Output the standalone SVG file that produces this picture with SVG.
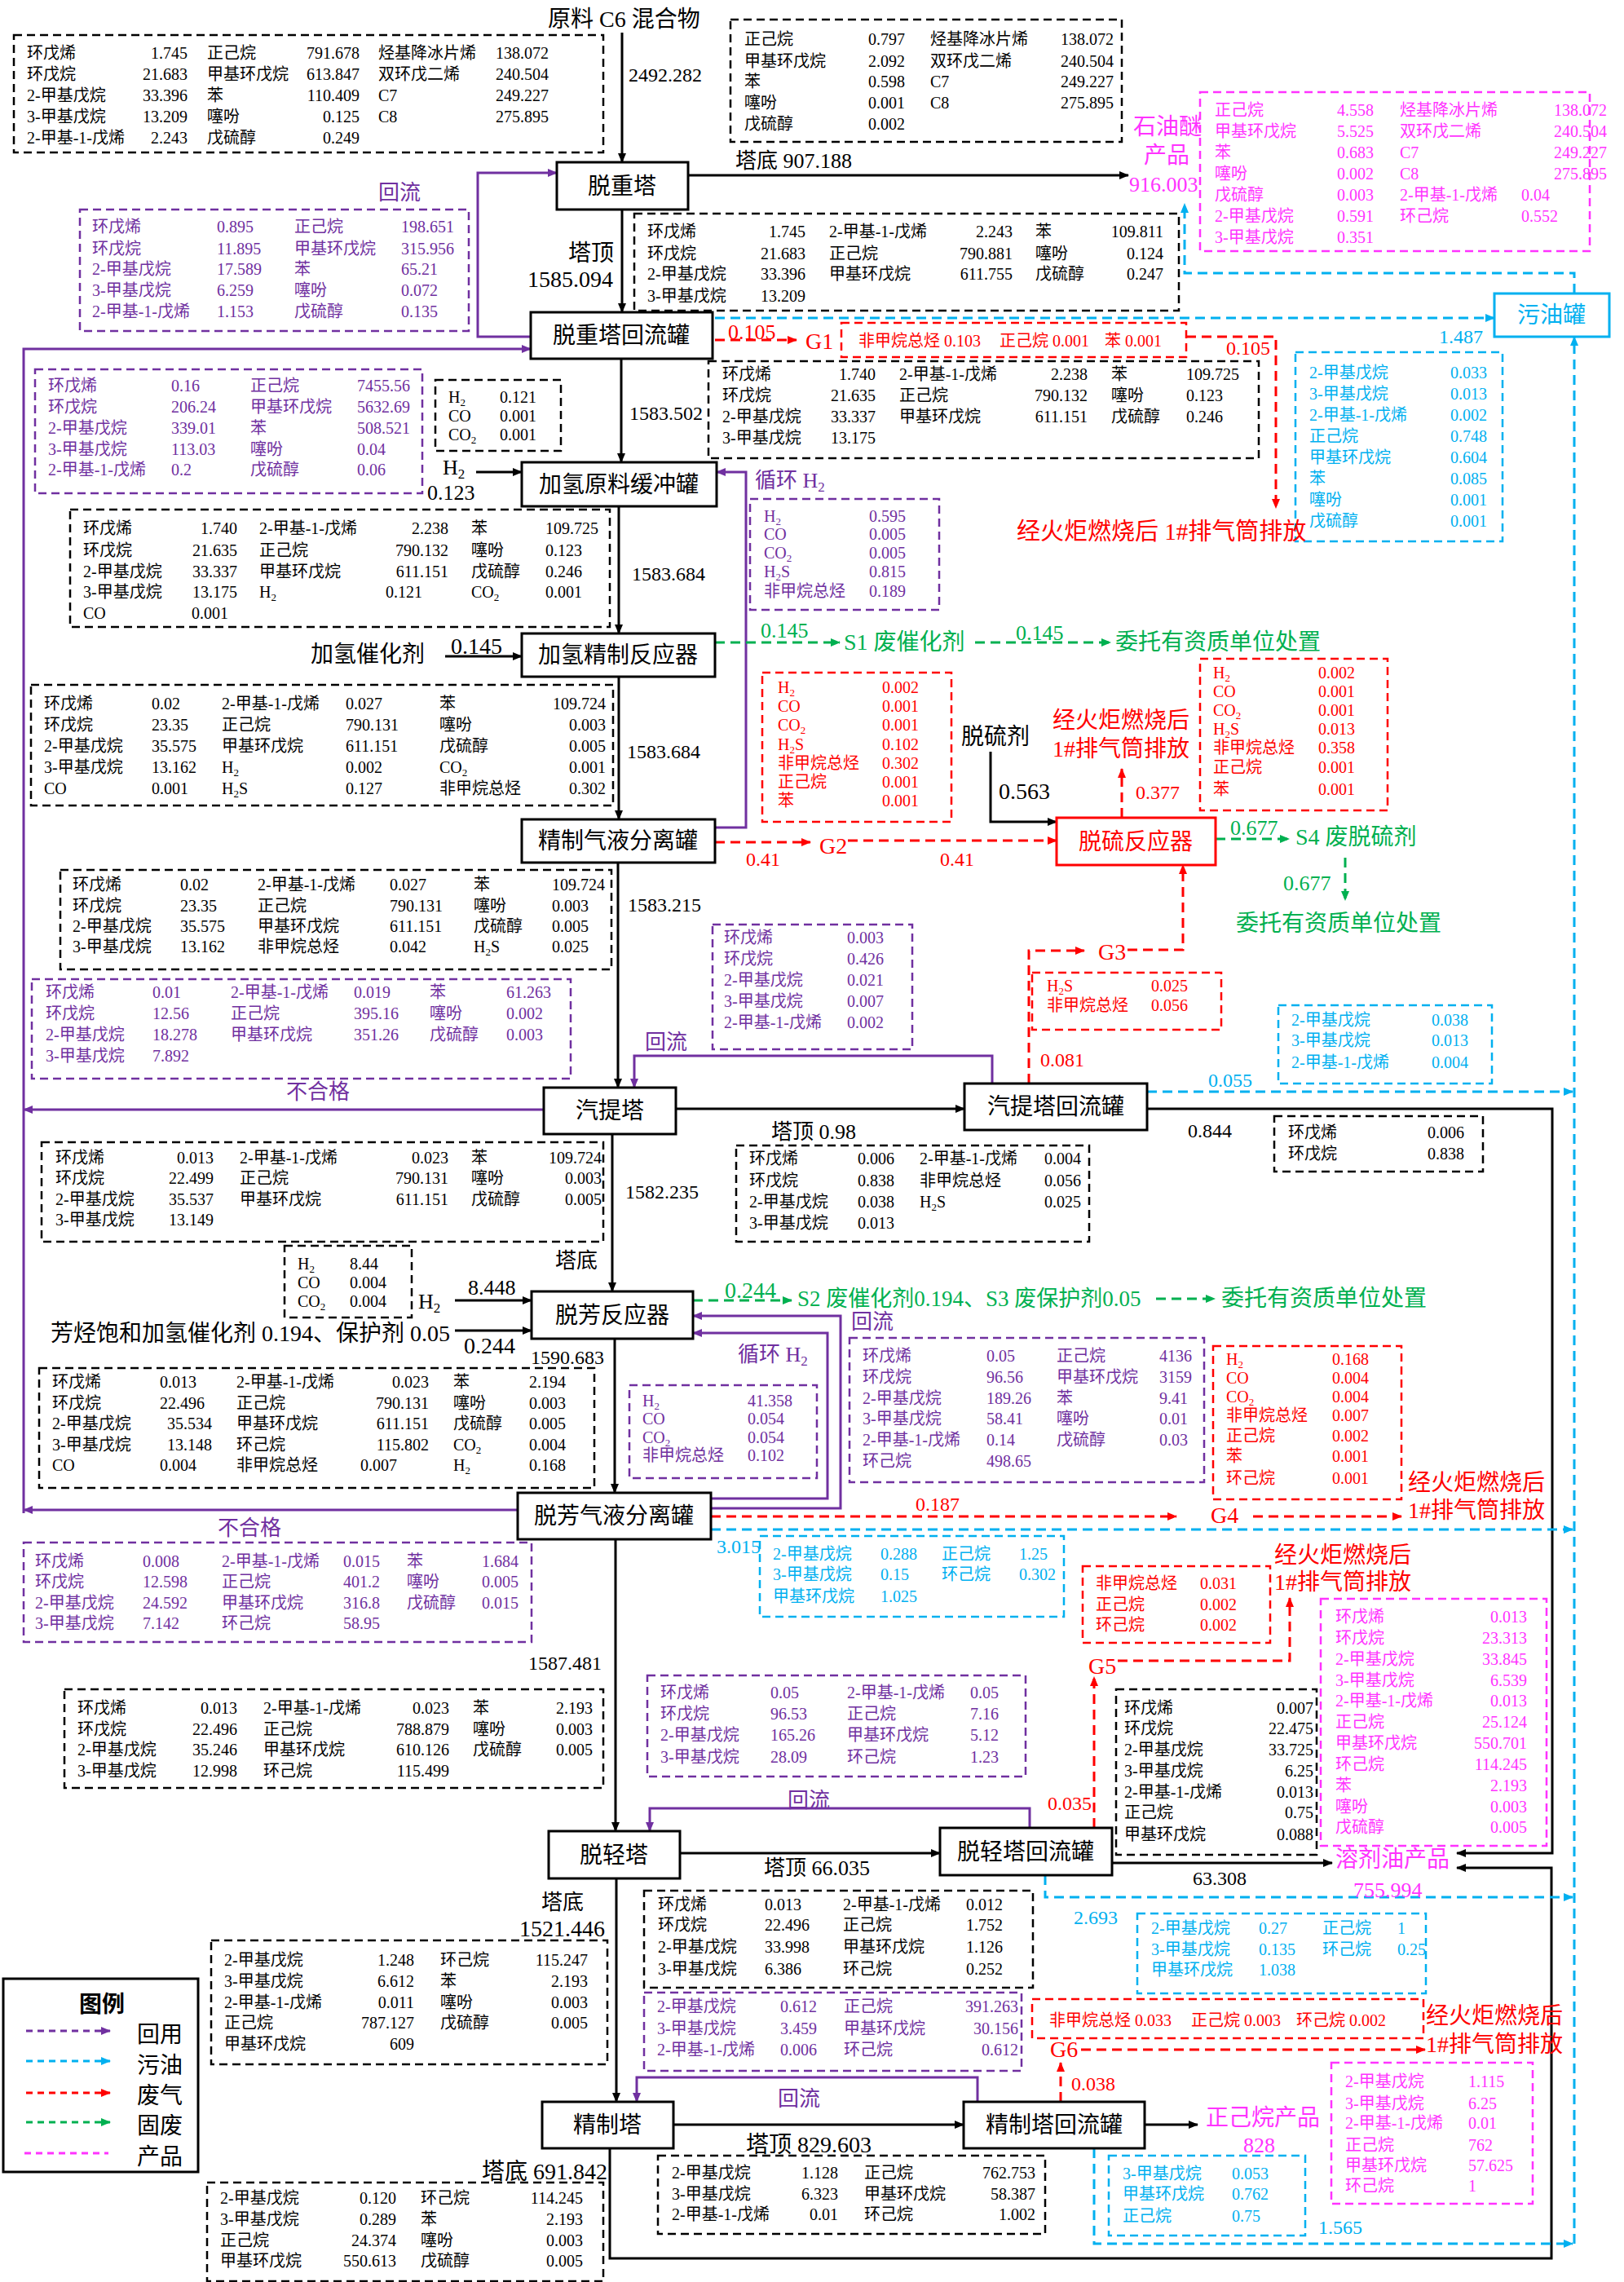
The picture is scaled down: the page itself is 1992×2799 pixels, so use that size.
<svg xmlns="http://www.w3.org/2000/svg" width="1992" height="2799" viewBox="0 0 1992 2799">
<style>
text{font-family:"Liberation Serif","Noto Sans CJK SC",serif;font-size:20px}
.L,#nodes text{font-size:28px}.M{font-size:24px}.K{font-size:26px}
.e{text-anchor:end}.c{text-anchor:middle}
.p{fill:#7030A0}.b{fill:#00B0F0}.r{fill:#FF0000}.g{fill:#00B050}.m{fill:#FF33FF}
.node{fill:#fff;stroke:#000;stroke-width:3}
.bx{fill:none;stroke-width:2.5;stroke-dasharray:10 6}
.bk{stroke:#000}.bp{stroke:#7030A0}.bb{stroke:#00B0F0}.br{stroke:#FF0000}.bm{stroke:#FF33FF}
.ln{fill:none;stroke:#000;stroke-width:3}
.lp{fill:none;stroke:#7030A0;stroke-width:3}
.lb{fill:none;stroke:#00B0F0;stroke-width:3;stroke-dasharray:12 7}
.lr{fill:none;stroke:#FF0000;stroke-width:3;stroke-dasharray:12 7}
.lg{fill:none;stroke:#00B050;stroke-width:3;stroke-dasharray:12 7}
.lm{fill:none;stroke:#FF33FF;stroke-width:3;stroke-dasharray:8 6}
.s{font-size:13px}
.S{font-size:17px}
</style>
<defs>
<marker id="ak" viewBox="0 0 12 10" refX="11" refY="5" markerWidth="12" markerHeight="10" markerUnits="userSpaceOnUse" orient="auto"><path d="M0,0L12,5L0,10z" fill="#000"/></marker>
<marker id="ap" viewBox="0 0 12 10" refX="11" refY="5" markerWidth="12" markerHeight="10" markerUnits="userSpaceOnUse" orient="auto"><path d="M0,0L12,5L0,10z" fill="#7030A0"/></marker>
<marker id="ab" viewBox="0 0 12 10" refX="11" refY="5" markerWidth="12" markerHeight="10" markerUnits="userSpaceOnUse" orient="auto"><path d="M0,0L12,5L0,10z" fill="#00B0F0"/></marker>
<marker id="ar" viewBox="0 0 12 10" refX="11" refY="5" markerWidth="12" markerHeight="10" markerUnits="userSpaceOnUse" orient="auto"><path d="M0,0L12,5L0,10z" fill="#FF0000"/></marker>
<marker id="ag" viewBox="0 0 12 10" refX="11" refY="5" markerWidth="12" markerHeight="10" markerUnits="userSpaceOnUse" orient="auto"><path d="M0,0L12,5L0,10z" fill="#00B050"/></marker>
</defs>
<rect width="1992" height="2799" fill="#fff"/>

<g id="tables">
<g id="tb-feed"><rect class="bx bk" x="17" y="43" width="723" height="144"/>
<text x="33" y="72">环戊烯</text><text class="e" x="230" y="72">1.745</text><text x="254" y="72">正己烷</text><text class="e" x="441" y="72">791.678</text><text x="464" y="72">烃基降冰片烯</text><text class="e" x="673" y="72">138.072</text>
<text x="33" y="98">环戊烷</text><text class="e" x="230" y="98">21.683</text><text x="254" y="98">甲基环戊烷</text><text class="e" x="441" y="98">613.847</text><text x="464" y="98">双环戊二烯</text><text class="e" x="673" y="98">240.504</text>
<text x="33" y="124">2-甲基戊烷</text><text class="e" x="230" y="124">33.396</text><text x="254" y="124">苯</text><text class="e" x="441" y="124">110.409</text><text x="464" y="124">C7</text><text class="e" x="673" y="124">249.227</text>
<text x="33" y="150">3-甲基戊烷</text><text class="e" x="230" y="150">13.209</text><text x="254" y="150">噻吩</text><text class="e" x="441" y="150">0.125</text><text x="464" y="150">C8</text><text class="e" x="673" y="150">275.895</text>
<text x="33" y="176">2-甲基-1-戊烯</text><text class="e" x="230" y="176">2.243</text><text x="254" y="176">戊硫醇</text><text class="e" x="441" y="176">0.249</text>
</g>
<g id="tb-bottom1"><rect class="bx bk" x="896" y="24" width="480" height="150"/>
<text x="913" y="55">正己烷</text><text class="e" x="1110" y="55">0.797</text><text x="1141" y="55">烃基降冰片烯</text><text class="e" x="1366" y="55">138.072</text>
<text x="913" y="82">甲基环戊烷</text><text class="e" x="1110" y="82">2.092</text><text x="1141" y="82">双环戊二烯</text><text class="e" x="1366" y="82">240.504</text>
<text x="913" y="107">苯</text><text class="e" x="1110" y="107">0.598</text><text x="1141" y="107">C7</text><text class="e" x="1366" y="107">249.227</text>
<text x="913" y="133">噻吩</text><text class="e" x="1110" y="133">0.001</text><text x="1141" y="133">C8</text><text class="e" x="1366" y="133">275.895</text>
<text x="913" y="159">戊硫醇</text><text class="e" x="1110" y="159">0.002</text>
</g>
<g id="tb-pe" class="m"><rect class="bx bm" x="1472" y="113" width="478" height="195"/>
<text x="1490" y="142">正己烷</text><text x="1640" y="142">4.558</text><text x="1717" y="142">烃基降冰片烯</text><text x="1906" y="142">138.072</text>
<text x="1490" y="168">甲基环戊烷</text><text x="1640" y="168">5.525</text><text x="1717" y="168">双环戊二烯</text><text x="1906" y="168">240.504</text>
<text x="1490" y="194">苯</text><text x="1640" y="194">0.683</text><text x="1717" y="194">C7</text><text x="1906" y="194">249.227</text>
<text x="1490" y="220">噻吩</text><text x="1640" y="220">0.002</text><text x="1717" y="220">C8</text><text x="1906" y="220">275.895</text>
<text x="1490" y="246">戊硫醇</text><text x="1640" y="246">0.003</text><text x="1717" y="246">2-甲基-1-戊烯</text><text x="1866" y="246">0.04</text>
<text x="1490" y="272">2-甲基戊烷</text><text x="1640" y="272">0.591</text><text x="1717" y="272">环己烷</text><text x="1866" y="272">0.552</text>
<text x="1490" y="298">3-甲基戊烷</text><text x="1640" y="298">0.351</text>
</g>
<g id="tb-reflux1" class="p"><rect class="bx bp" x="98" y="257" width="477" height="149"/>
<text x="113" y="285">环戊烯</text><text x="266" y="285">0.895</text><text x="361" y="285">正己烷</text><text x="492" y="285">198.651</text>
<text x="113" y="312">环戊烷</text><text x="266" y="312">11.895</text><text x="361" y="312">甲基环戊烷</text><text x="492" y="312">315.956</text>
<text x="113" y="337">2-甲基戊烷</text><text x="266" y="337">17.589</text><text x="361" y="337">苯</text><text x="492" y="337">65.21</text>
<text x="113" y="363">3-甲基戊烷</text><text x="266" y="363">6.259</text><text x="361" y="363">噻吩</text><text x="492" y="363">0.072</text>
<text x="113" y="389">2-甲基-1-戊烯</text><text x="266" y="389">1.153</text><text x="361" y="389">戊硫醇</text><text x="492" y="389">0.135</text>
</g>
<g id="tb-top1"><rect class="bx bk" x="778" y="262" width="668" height="119"/>
<text x="794" y="291">环戊烯</text><text class="e" x="988" y="291">1.745</text><text x="1017" y="291">2-甲基-1-戊烯</text><text class="e" x="1242" y="291">2.243</text><text x="1270" y="291">苯</text><text class="e" x="1427" y="291">109.811</text>
<text x="794" y="318">环戊烷</text><text class="e" x="988" y="318">21.683</text><text x="1017" y="318">正己烷</text><text class="e" x="1242" y="318">790.881</text><text x="1270" y="318">噻吩</text><text class="e" x="1427" y="318">0.124</text>
<text x="794" y="343">2-甲基戊烷</text><text class="e" x="988" y="343">33.396</text><text x="1017" y="343">甲基环戊烷</text><text class="e" x="1242" y="343">611.755</text><text x="1270" y="343">戊硫醇</text><text class="e" x="1427" y="343">0.247</text>
<text x="794" y="370">3-甲基戊烷</text><text class="e" x="988" y="370">13.209</text>
</g>
<g id="tb-g1" class="r"><rect class="bx br" x="1032" y="396" width="423" height="42"/>
<text x="1053" y="425">非甲烷总烃 0.103</text><text x="1226" y="425">正己烷 0.001</text><text x="1355" y="425">苯 0.001</text>
</g>
<g id="tb-oil1" class="b"><rect class="bx bb" x="1589" y="432" width="254" height="232"/>
<text x="1606" y="464">2-甲基戊烷</text><text x="1779" y="464">0.033</text>
<text x="1606" y="490">3-甲基戊烷</text><text x="1779" y="490">0.013</text>
<text x="1606" y="516">2-甲基-1-戊烯</text><text x="1779" y="516">0.002</text>
<text x="1606" y="542">正己烷</text><text x="1779" y="542">0.748</text>
<text x="1606" y="568">甲基环戊烷</text><text x="1779" y="568">0.604</text>
<text x="1606" y="594">苯</text><text x="1779" y="594">0.085</text>
<text x="1606" y="620">噻吩</text><text x="1779" y="620">0.001</text>
<text x="1606" y="646">戊硫醇</text><text x="1779" y="646">0.001</text>
</g>
<g id="tb-drum1"><rect class="bx bk" x="869" y="443" width="675" height="119"/>
<text x="886" y="466">环戊烯</text><text class="e" x="1074" y="466">1.740</text><text x="1103" y="466">2-甲基-1-戊烯</text><text class="e" x="1334" y="466">2.238</text><text x="1363" y="466">苯</text><text x="1455" y="466">109.725</text>
<text x="886" y="492">环戊烷</text><text class="e" x="1074" y="492">21.635</text><text x="1103" y="492">正己烷</text><text class="e" x="1334" y="492">790.132</text><text x="1363" y="492">噻吩</text><text x="1455" y="492">0.123</text>
<text x="886" y="518">2-甲基戊烷</text><text class="e" x="1074" y="518">33.337</text><text x="1103" y="518">甲基环戊烷</text><text class="e" x="1334" y="518">611.151</text><text x="1363" y="518">戊硫醇</text><text x="1455" y="518">0.246</text>
<text x="886" y="544">3-甲基戊烷</text><text class="e" x="1074" y="544">13.175</text>
</g>
<g id="tb-reflux2" class="p"><rect class="bx bp" x="43" y="453" width="475" height="152"/>
<text x="59" y="480">环戊烯</text><text x="210" y="480">0.16</text><text x="307" y="480">正己烷</text><text x="438" y="480">7455.56</text>
<text x="59" y="506">环戊烷</text><text x="210" y="506">206.24</text><text x="307" y="506">甲基环戊烷</text><text x="438" y="506">5632.69</text>
<text x="59" y="532">2-甲基戊烷</text><text x="210" y="532">339.01</text><text x="307" y="532">苯</text><text x="438" y="532">508.521</text>
<text x="59" y="558">3-甲基戊烷</text><text x="210" y="558">113.03</text><text x="307" y="558">噻吩</text><text x="438" y="558">0.04</text>
<text x="59" y="583">2-甲基-1-戊烯</text><text x="210" y="583">0.2</text><text x="307" y="583">戊硫醇</text><text x="438" y="583">0.06</text>
</g>
<g id="tb-h2a"><rect class="bx bk" x="534" y="466" width="154" height="87"/>
<text x="550" y="494">H<tspan class="s" dy="4">2</tspan></text><text x="613" y="494">0.121</text>
<text x="550" y="517">CO</text><text x="613" y="517">0.001</text>
<text x="550" y="540">CO<tspan class="s" dy="4">2</tspan></text><text x="613" y="540">0.001</text>
</g>
<g id="tb-rech2a" class="p"><rect class="bx bp" x="920" y="612" width="232" height="136"/>
<text x="937" y="640">H<tspan class="s" dy="4">2</tspan></text><text x="1066" y="640">0.595</text>
<text x="937" y="662">CO</text><text x="1066" y="662">0.005</text>
<text x="937" y="685">CO<tspan class="s" dy="4">2</tspan></text><text x="1066" y="685">0.005</text>
<text x="937" y="708">H<tspan class="s" dy="4">2</tspan><tspan dy="-4">S</tspan></text><text x="1066" y="708">0.815</text>
<text x="937" y="732">非甲烷总烃</text><text x="1066" y="732">0.189</text>
</g>
<g id="tb-drum2"><rect class="bx bk" x="86" y="625" width="662" height="144"/>
<text x="102" y="655">环戊烯</text><text class="e" x="291" y="655">1.740</text><text x="318" y="655">2-甲基-1-戊烯</text><text class="e" x="550" y="655">2.238</text><text x="578" y="655">苯</text><text x="669" y="655">109.725</text>
<text x="102" y="682">环戊烷</text><text class="e" x="291" y="682">21.635</text><text x="318" y="682">正己烷</text><text class="e" x="550" y="682">790.132</text><text x="578" y="682">噻吩</text><text x="669" y="682">0.123</text>
<text x="102" y="708">2-甲基戊烷</text><text class="e" x="291" y="708">33.337</text><text x="318" y="708">甲基环戊烷</text><text class="e" x="550" y="708">611.151</text><text x="578" y="708">戊硫醇</text><text x="669" y="708">0.246</text>
<text x="102" y="733">3-甲基戊烷</text><text class="e" x="291" y="733">13.175</text><text x="318" y="733">H<tspan class="s" dy="4">2</tspan></text><text class="e" x="518" y="733">0.121</text><text x="578" y="733">CO<tspan class="s" dy="4">2</tspan></text><text x="669" y="733">0.001</text>
<text x="102" y="759">CO</text><text class="e" x="280" y="759">0.001</text>
</g>
<g id="tb-hydro"><rect class="bx bk" x="38" y="840" width="714" height="148"/>
<text x="54" y="870">环戊烯</text><text x="186" y="870">0.02</text><text x="272" y="870">2-甲基-1-戊烯</text><text x="424" y="870">0.027</text><text x="539" y="870">苯</text><text class="e" x="743" y="870">109.724</text>
<text x="54" y="896">环戊烷</text><text x="186" y="896">23.35</text><text x="272" y="896">正己烷</text><text x="424" y="896">790.131</text><text x="539" y="896">噻吩</text><text class="e" x="743" y="896">0.003</text>
<text x="54" y="922">2-甲基戊烷</text><text x="186" y="922">35.575</text><text x="272" y="922">甲基环戊烷</text><text x="424" y="922">611.151</text><text x="539" y="922">戊硫醇</text><text class="e" x="743" y="922">0.005</text>
<text x="54" y="948">3-甲基戊烷</text><text x="186" y="948">13.162</text><text x="272" y="948">H<tspan class="s" dy="4">2</tspan></text><text x="424" y="948">0.002</text><text x="539" y="948">CO<tspan class="s" dy="4">2</tspan></text><text class="e" x="743" y="948">0.001</text>
<text x="54" y="974">CO</text><text x="186" y="974">0.001</text><text x="272" y="974">H<tspan class="s" dy="4">2</tspan><tspan dy="-4">S</tspan></text><text x="424" y="974">0.127</text><text x="539" y="974">非甲烷总烃</text><text class="e" x="743" y="974">0.302</text>
</g>
<g id="tb-g2" class="r"><rect class="bx br" x="935" y="825" width="232" height="183"/>
<text x="954" y="850">H<tspan class="s" dy="4">2</tspan></text><text x="1082" y="850">0.002</text>
<text x="954" y="873">CO</text><text x="1082" y="873">0.001</text>
<text x="954" y="896">CO<tspan class="s" dy="4">2</tspan></text><text x="1082" y="896">0.001</text>
<text x="954" y="920">H<tspan class="s" dy="4">2</tspan><tspan dy="-4">S</tspan></text><text x="1082" y="920">0.102</text>
<text x="954" y="943">非甲烷总烃</text><text x="1082" y="943">0.302</text>
<text x="954" y="966">正己烷</text><text x="1082" y="966">0.001</text>
<text x="954" y="989">苯</text><text x="1082" y="989">0.001</text>
</g>
<g id="tb-desulf" class="r"><rect class="bx br" x="1472" y="808" width="230" height="186"/>
<text x="1488" y="832">H<tspan class="s" dy="4">2</tspan></text><text x="1617" y="832">0.002</text>
<text x="1488" y="855">CO</text><text x="1617" y="855">0.001</text>
<text x="1488" y="878">CO<tspan class="s" dy="4">2</tspan></text><text x="1617" y="878">0.001</text>
<text x="1488" y="901">H<tspan class="s" dy="4">2</tspan><tspan dy="-4">S</tspan></text><text x="1617" y="901">0.013</text>
<text x="1488" y="924">非甲烷总烃</text><text x="1617" y="924">0.358</text>
<text x="1488" y="948">正己烷</text><text x="1617" y="948">0.001</text>
<text x="1488" y="975">苯</text><text x="1617" y="975">0.001</text>
</g>
<g id="tb-sep1"><rect class="bx bk" x="74" y="1067" width="676" height="122"/>
<text x="89" y="1092">环戊烯</text><text x="221" y="1092">0.02</text><text x="316" y="1092">2-甲基-1-戊烯</text><text x="478" y="1092">0.027</text><text x="581" y="1092">苯</text><text x="677" y="1092">109.724</text>
<text x="89" y="1118">环戊烷</text><text x="221" y="1118">23.35</text><text x="316" y="1118">正己烷</text><text x="478" y="1118">790.131</text><text x="581" y="1118">噻吩</text><text x="677" y="1118">0.003</text>
<text x="89" y="1143">2-甲基戊烷</text><text x="221" y="1143">35.575</text><text x="316" y="1143">甲基环戊烷</text><text x="478" y="1143">611.151</text><text x="581" y="1143">戊硫醇</text><text x="677" y="1143">0.005</text>
<text x="89" y="1168">3-甲基戊烷</text><text x="221" y="1168">13.162</text><text x="316" y="1168">非甲烷总烃</text><text x="478" y="1168">0.042</text><text x="581" y="1168">H<tspan class="s" dy="4">2</tspan><tspan dy="-4">S</tspan></text><text x="677" y="1168">0.025</text>
</g>
<g id="tb-strip-reflux" class="p"><rect class="bx bp" x="874" y="1134" width="245" height="153"/>
<text x="888" y="1157">环戊烯</text><text x="1039" y="1157">0.003</text>
<text x="888" y="1183">环戊烷</text><text x="1039" y="1183">0.426</text>
<text x="888" y="1209">2-甲基戊烷</text><text x="1039" y="1209">0.021</text>
<text x="888" y="1235">3-甲基戊烷</text><text x="1039" y="1235">0.007</text>
<text x="888" y="1261">2-甲基-1-戊烯</text><text x="1039" y="1261">0.002</text>
</g>
<g id="tb-reject1" class="p"><rect class="bx bp" x="39" y="1201" width="661" height="122"/>
<text x="56" y="1224">环戊烯</text><text x="187" y="1224">0.01</text><text x="283" y="1224">2-甲基-1-戊烯</text><text x="434" y="1224">0.019</text><text x="527" y="1224">苯</text><text x="621" y="1224">61.263</text>
<text x="56" y="1250">环戊烷</text><text x="187" y="1250">12.56</text><text x="283" y="1250">正己烷</text><text x="434" y="1250">395.16</text><text x="527" y="1250">噻吩</text><text x="621" y="1250">0.002</text>
<text x="56" y="1276">2-甲基戊烷</text><text x="187" y="1276">18.278</text><text x="283" y="1276">甲基环戊烷</text><text x="434" y="1276">351.26</text><text x="527" y="1276">戊硫醇</text><text x="621" y="1276">0.003</text>
<text x="56" y="1302">3-甲基戊烷</text><text x="187" y="1302">7.892</text>
</g>
<g id="tb-g3" class="r"><rect class="bx br" x="1266" y="1193" width="232" height="70"/>
<text x="1284" y="1216">H<tspan class="s" dy="4">2</tspan><tspan dy="-4">S</tspan></text><text x="1412" y="1216">0.025</text>
<text x="1284" y="1240">非甲烷总烃</text><text x="1412" y="1240">0.056</text>
</g>
<g id="tb-oil2" class="b"><rect class="bx bb" x="1568" y="1233" width="262" height="96"/>
<text x="1584" y="1258">2-甲基戊烷</text><text x="1756" y="1258">0.038</text>
<text x="1584" y="1283">3-甲基戊烷</text><text x="1756" y="1283">0.013</text>
<text x="1584" y="1310">2-甲基-1-戊烯</text><text x="1756" y="1310">0.004</text>
</g>
<g id="tb-strip-liq"><rect class="bx bk" x="1563" y="1369" width="256" height="68"/>
<text x="1580" y="1396">环戊烯</text><text x="1751" y="1396">0.006</text>
<text x="1580" y="1422">环戊烷</text><text x="1751" y="1422">0.838</text>
</g>
<g id="tb-strip-bot"><rect class="bx bk" x="51" y="1401" width="689" height="122"/>
<text x="68" y="1427">环戊烯</text><text class="e" x="262" y="1427">0.013</text><text x="294" y="1427">2-甲基-1-戊烯</text><text class="e" x="550" y="1427">0.023</text><text x="578" y="1427">苯</text><text class="e" x="738" y="1427">109.724</text>
<text x="68" y="1452">环戊烷</text><text class="e" x="262" y="1452">22.499</text><text x="294" y="1452">正己烷</text><text class="e" x="550" y="1452">790.131</text><text x="578" y="1452">噻吩</text><text class="e" x="738" y="1452">0.003</text>
<text x="68" y="1478">2-甲基戊烷</text><text class="e" x="262" y="1478">35.537</text><text x="294" y="1478">甲基环戊烷</text><text class="e" x="550" y="1478">611.151</text><text x="578" y="1478">戊硫醇</text><text class="e" x="738" y="1478">0.005</text>
<text x="68" y="1503">3-甲基戊烷</text><text class="e" x="262" y="1503">13.149</text>
</g>
<g id="tb-strip-top"><rect class="bx bk" x="903" y="1405" width="433" height="118"/>
<text x="919" y="1428">环戊烯</text><text x="1052" y="1428">0.006</text><text x="1128" y="1428">2-甲基-1-戊烯</text><text class="e" x="1326" y="1428">0.004</text>
<text x="919" y="1455">环戊烷</text><text x="1052" y="1455">0.838</text><text x="1128" y="1455">非甲烷总烃</text><text class="e" x="1326" y="1455">0.056</text>
<text x="919" y="1481">2-甲基戊烷</text><text x="1052" y="1481">0.038</text><text x="1128" y="1481">H<tspan class="s" dy="4">2</tspan><tspan dy="-4">S</tspan></text><text class="e" x="1326" y="1481">0.025</text>
<text x="919" y="1507">3-甲基戊烷</text><text x="1052" y="1507">0.013</text>
</g>
<g id="tb-h2b"><rect class="bx bk" x="349" y="1528" width="156" height="88"/>
<text x="365" y="1557">H<tspan class="s" dy="4">2</tspan></text><text x="429" y="1557">8.44</text>
<text x="365" y="1580">CO</text><text x="429" y="1580">0.004</text>
<text x="365" y="1603">CO<tspan class="s" dy="4">2</tspan></text><text x="429" y="1603">0.004</text>
</g>
<g id="tb-dearo-reflux" class="p"><rect class="bx bp" x="1042" y="1641" width="435" height="177"/>
<text x="1058" y="1670">环戊烯</text><text x="1210" y="1670">0.05</text><text x="1296" y="1670">正己烷</text><text x="1422" y="1670">4136</text>
<text x="1058" y="1696">环戊烷</text><text x="1210" y="1696">96.56</text><text x="1296" y="1696">甲基环戊烷</text><text x="1422" y="1696">3159</text>
<text x="1058" y="1722">2-甲基戊烷</text><text x="1210" y="1722">189.26</text><text x="1296" y="1722">苯</text><text x="1422" y="1722">9.41</text>
<text x="1058" y="1747">3-甲基戊烷</text><text x="1210" y="1747">58.41</text><text x="1296" y="1747">噻吩</text><text x="1422" y="1747">0.01</text>
<text x="1058" y="1773">2-甲基-1-戊烯</text><text x="1210" y="1773">0.14</text><text x="1296" y="1773">戊硫醇</text><text x="1422" y="1773">0.03</text>
<text x="1058" y="1799">环己烷</text><text x="1210" y="1799">498.65</text>
</g>
<g id="tb-g4" class="r"><rect class="bx br" x="1488" y="1651" width="231" height="188"/>
<text x="1504" y="1674">H<tspan class="s" dy="4">2</tspan></text><text x="1634" y="1674">0.168</text>
<text x="1504" y="1697">CO</text><text x="1634" y="1697">0.004</text>
<text x="1504" y="1720">CO<tspan class="s" dy="4">2</tspan></text><text x="1634" y="1720">0.004</text>
<text x="1504" y="1743">非甲烷总烃</text><text x="1634" y="1743">0.007</text>
<text x="1504" y="1768">正己烷</text><text x="1634" y="1768">0.002</text>
<text x="1504" y="1793">苯</text><text x="1634" y="1793">0.001</text>
<text x="1504" y="1820">环己烷</text><text x="1634" y="1820">0.001</text>
</g>
<g id="tb-rech2b" class="p"><rect class="bx bp" x="772" y="1699" width="230" height="114"/>
<text x="788" y="1725">H<tspan class="s" dy="4">2</tspan></text><text x="917" y="1725">41.358</text>
<text x="788" y="1747">CO</text><text x="917" y="1747">0.054</text>
<text x="788" y="1770">CO<tspan class="s" dy="4">2</tspan></text><text x="917" y="1770">0.054</text>
<text x="788" y="1792">非甲烷总烃</text><text x="917" y="1792">0.102</text>
</g>
<g id="tb-dearo"><rect class="bx bk" x="48" y="1678" width="681" height="147"/>
<text x="64" y="1702">环戊烯</text><text x="196" y="1702">0.013</text><text x="290" y="1702">2-甲基-1-戊烯</text><text class="e" x="526" y="1702">0.023</text><text x="556" y="1702">苯</text><text x="649" y="1702">2.194</text>
<text x="64" y="1728">环戊烷</text><text x="196" y="1728">22.496</text><text x="290" y="1728">正己烷</text><text class="e" x="526" y="1728">790.131</text><text x="556" y="1728">噻吩</text><text x="649" y="1728">0.003</text>
<text x="64" y="1753">2-甲基戊烷</text><text x="205" y="1753">35.534</text><text x="290" y="1753">甲基环戊烷</text><text class="e" x="526" y="1753">611.151</text><text x="556" y="1753">戊硫醇</text><text x="649" y="1753">0.005</text>
<text x="64" y="1779">3-甲基戊烷</text><text x="205" y="1779">13.148</text><text x="290" y="1779">环己烷</text><text class="e" x="526" y="1779">115.802</text><text x="556" y="1779">CO<tspan class="s" dy="4">2</tspan></text><text x="649" y="1779">0.004</text>
<text x="64" y="1804">CO</text><text x="196" y="1804">0.004</text><text x="290" y="1804">非甲烷总烃</text><text class="e" x="487" y="1804">0.007</text><text x="556" y="1804">H<tspan class="s" dy="4">2</tspan></text><text x="649" y="1804">0.168</text>
</g>
<g id="tb-reject2" class="p"><rect class="bx bp" x="29" y="1892" width="623" height="122"/>
<text x="43" y="1922">环戊烯</text><text x="175" y="1922">0.008</text><text x="272" y="1922">2-甲基-1-戊烯</text><text x="421" y="1922">0.015</text><text x="499" y="1922">苯</text><text x="591" y="1922">1.684</text>
<text x="43" y="1947">环戊烷</text><text x="175" y="1947">12.598</text><text x="272" y="1947">正己烷</text><text x="421" y="1947">401.2</text><text x="499" y="1947">噻吩</text><text x="591" y="1947">0.005</text>
<text x="43" y="1973">2-甲基戊烷</text><text x="175" y="1973">24.592</text><text x="272" y="1973">甲基环戊烷</text><text x="421" y="1973">316.8</text><text x="499" y="1973">戊硫醇</text><text x="591" y="1973">0.015</text>
<text x="43" y="1998">3-甲基戊烷</text><text x="175" y="1998">7.142</text><text x="272" y="1998">环己烷</text><text x="421" y="1998">58.95</text>
</g>
<g id="tb-oil3" class="b"><rect class="bx bb" x="932" y="1884" width="373" height="99"/>
<text x="948" y="1913">2-甲基戊烷</text><text x="1080" y="1913">0.288</text><text x="1155" y="1913">正己烷</text><text x="1250" y="1913">1.25</text>
<text x="948" y="1938">3-甲基戊烷</text><text x="1080" y="1938">0.15</text><text x="1155" y="1938">环己烷</text><text x="1250" y="1938">0.302</text>
<text x="948" y="1965">甲基环戊烷</text><text x="1080" y="1965">1.025</text>
</g>
<g id="tb-g5" class="r"><rect class="bx br" x="1328" y="1921" width="230" height="94"/>
<text x="1344" y="1949">非甲烷总烃</text><text x="1472" y="1949">0.031</text>
<text x="1344" y="1975">正己烷</text><text x="1472" y="1975">0.002</text>
<text x="1344" y="2000">环己烷</text><text x="1472" y="2000">0.002</text>
</g>
<g id="tb-solvent" class="m"><rect class="bx bm" x="1620" y="1961" width="277" height="303"/>
<text x="1638" y="1990">环戊烯</text><text class="e" x="1873" y="1990">0.013</text>
<text x="1638" y="2016">环戊烷</text><text class="e" x="1873" y="2016">23.313</text>
<text x="1638" y="2042">2-甲基戊烷</text><text class="e" x="1873" y="2042">33.845</text>
<text x="1638" y="2068">3-甲基戊烷</text><text class="e" x="1873" y="2068">6.539</text>
<text x="1638" y="2093">2-甲基-1-戊烯</text><text class="e" x="1873" y="2093">0.013</text>
<text x="1638" y="2119">正己烷</text><text class="e" x="1873" y="2119">25.124</text>
<text x="1638" y="2145">甲基环戊烷</text><text class="e" x="1873" y="2145">550.701</text>
<text x="1638" y="2171">环己烷</text><text class="e" x="1873" y="2171">114.245</text>
<text x="1638" y="2197">苯</text><text class="e" x="1873" y="2197">2.193</text>
<text x="1638" y="2223">噻吩</text><text class="e" x="1873" y="2223">0.003</text>
<text x="1638" y="2248">戊硫醇</text><text class="e" x="1873" y="2248">0.005</text>
</g>
<g id="tb-light-reflux" class="p"><rect class="bx bp" x="794" y="2055" width="464" height="124"/>
<text x="810" y="2083">环戊烯</text><text x="945" y="2083">0.05</text><text x="1039" y="2083">2-甲基-1-戊烯</text><text x="1190" y="2083">0.05</text>
<text x="810" y="2109">环戊烷</text><text x="945" y="2109">96.53</text><text x="1039" y="2109">正己烷</text><text x="1190" y="2109">7.16</text>
<text x="810" y="2135">2-甲基戊烷</text><text x="945" y="2135">165.26</text><text x="1039" y="2135">甲基环戊烷</text><text x="1190" y="2135">5.12</text>
<text x="810" y="2162">3-甲基戊烷</text><text x="945" y="2162">28.09</text><text x="1039" y="2162">环己烷</text><text x="1190" y="2162">1.23</text>
</g>
<g id="tb-sep2"><rect class="bx bk" x="79" y="2072" width="661" height="121"/>
<text x="95" y="2102">环戊烯</text><text class="e" x="291" y="2102">0.013</text><text x="323" y="2102">2-甲基-1-戊烯</text><text class="e" x="551" y="2102">0.023</text><text x="580" y="2102">苯</text><text class="e" x="727" y="2102">2.193</text>
<text x="95" y="2128">环戊烷</text><text class="e" x="291" y="2128">22.496</text><text x="323" y="2128">正己烷</text><text class="e" x="551" y="2128">788.879</text><text x="580" y="2128">噻吩</text><text class="e" x="727" y="2128">0.003</text>
<text x="95" y="2153">2-甲基戊烷</text><text class="e" x="291" y="2153">35.246</text><text x="323" y="2153">甲基环戊烷</text><text class="e" x="551" y="2153">610.126</text><text x="580" y="2153">戊硫醇</text><text class="e" x="727" y="2153">0.005</text>
<text x="95" y="2179">3-甲基戊烷</text><text class="e" x="291" y="2179">12.998</text><text x="323" y="2179">环己烷</text><text class="e" x="551" y="2179">115.499</text>
</g>
<g id="tb-light-top"><rect class="bx bk" x="1369" y="2072" width="246" height="203"/>
<text x="1379" y="2102">环戊烯</text><text class="e" x="1611" y="2102">0.007</text>
<text x="1379" y="2127">环戊烷</text><text class="e" x="1611" y="2127">22.475</text>
<text x="1379" y="2153">2-甲基戊烷</text><text class="e" x="1611" y="2153">33.725</text>
<text x="1379" y="2179">3-甲基戊烷</text><text class="e" x="1611" y="2179">6.25</text>
<text x="1379" y="2205">2-甲基-1-戊烯</text><text class="e" x="1611" y="2205">0.013</text>
<text x="1379" y="2230">正己烷</text><text class="e" x="1611" y="2230">0.75</text>
<text x="1379" y="2257">甲基环戊烷</text><text class="e" x="1611" y="2257">0.088</text>
</g>
<g id="tb-light-liq"><rect class="bx bk" x="790" y="2319" width="477" height="119"/>
<text x="807" y="2343">环戊烯</text><text x="938" y="2343">0.013</text><text x="1034" y="2343">2-甲基-1-戊烯</text><text class="e" x="1230" y="2343">0.012</text>
<text x="807" y="2368">环戊烷</text><text x="938" y="2368">22.496</text><text x="1034" y="2368">正己烷</text><text class="e" x="1230" y="2368">1.752</text>
<text x="807" y="2395">2-甲基戊烷</text><text x="938" y="2395">33.998</text><text x="1034" y="2395">甲基环戊烷</text><text class="e" x="1230" y="2395">1.126</text>
<text x="807" y="2422">3-甲基戊烷</text><text x="938" y="2422">6.386</text><text x="1034" y="2422">环己烷</text><text class="e" x="1230" y="2422">0.252</text>
</g>
<g id="tb-light-bot"><rect class="bx bk" x="259" y="2380" width="486" height="152"/>
<text x="275" y="2411">2-甲基戊烷</text><text class="e" x="508" y="2411">1.248</text><text x="540" y="2411">环己烷</text><text class="e" x="721" y="2411">115.247</text>
<text x="275" y="2437">3-甲基戊烷</text><text class="e" x="508" y="2437">6.612</text><text x="540" y="2437">苯</text><text class="e" x="721" y="2437">2.193</text>
<text x="275" y="2463">2-甲基-1-戊烯</text><text class="e" x="508" y="2463">0.011</text><text x="540" y="2463">噻吩</text><text class="e" x="721" y="2463">0.003</text>
<text x="275" y="2488">正己烷</text><text class="e" x="508" y="2488">787.127</text><text x="540" y="2488">戊硫醇</text><text class="e" x="721" y="2488">0.005</text>
<text x="275" y="2514">甲基环戊烷</text><text class="e" x="508" y="2514">609</text>
</g>
<g id="tb-oil4" class="b"><rect class="bx bb" x="1395" y="2347" width="354" height="98"/>
<text x="1412" y="2372">2-甲基戊烷</text><text x="1544" y="2372">0.27</text><text x="1622" y="2372">正己烷</text><text x="1714" y="2372">1</text>
<text x="1412" y="2398">3-甲基戊烷</text><text x="1544" y="2398">0.135</text><text x="1622" y="2398">环己烷</text><text x="1714" y="2398">0.25</text>
<text x="1412" y="2423">甲基环戊烷</text><text x="1544" y="2423">1.038</text>
</g>
<g id="tb-fine-reflux" class="p"><rect class="bx bp" x="790" y="2444" width="463" height="96"/>
<text x="806" y="2468">2-甲基戊烷</text><text x="957" y="2468">0.612</text><text x="1035" y="2468">正己烷</text><text class="e" x="1249" y="2468">391.263</text>
<text x="806" y="2495">3-甲基戊烷</text><text x="957" y="2495">3.459</text><text x="1035" y="2495">甲基环戊烷</text><text class="e" x="1249" y="2495">30.156</text>
<text x="806" y="2521">2-甲基-1-戊烯</text><text x="957" y="2521">0.006</text><text x="1035" y="2521">环己烷</text><text class="e" x="1249" y="2521">0.612</text>
</g>
<g id="tb-g6" class="r"><rect class="bx br" x="1266" y="2452" width="480" height="48"/>
<text x="1287" y="2485">非甲烷总烃 0.033</text><text x="1461" y="2485">正己烷 0.003</text><text x="1590" y="2485">环己烷 0.002</text>
</g>
<g id="tb-hexane" class="m"><rect class="bx bm" x="1633" y="2530" width="247" height="173"/>
<text x="1650" y="2560">2-甲基戊烷</text><text x="1801" y="2560">1.115</text>
<text x="1650" y="2587">3-甲基戊烷</text><text x="1801" y="2587">6.25</text>
<text x="1650" y="2611">2-甲基-1-戊烯</text><text x="1801" y="2611">0.01</text>
<text x="1650" y="2638">正己烷</text><text x="1801" y="2638">762</text>
<text x="1650" y="2663">甲基环戊烷</text><text x="1801" y="2663">57.625</text>
<text x="1650" y="2688">环己烷</text><text x="1801" y="2688">1</text>
</g>
<g id="tb-fine-top"><rect class="bx bk" x="807" y="2644" width="475" height="96"/>
<text x="824" y="2672">2-甲基戊烷</text><text class="e" x="1028" y="2672">1.128</text><text x="1060" y="2672">正己烷</text><text class="e" x="1270" y="2672">762.753</text>
<text x="824" y="2698">3-甲基戊烷</text><text class="e" x="1028" y="2698">6.323</text><text x="1060" y="2698">甲基环戊烷</text><text class="e" x="1270" y="2698">58.387</text>
<text x="824" y="2723">2-甲基-1-戊烯</text><text class="e" x="1028" y="2723">0.01</text><text x="1060" y="2723">环己烷</text><text class="e" x="1270" y="2723">1.002</text>
</g>
<g id="tb-oil5" class="b"><rect class="bx bb" x="1360" y="2644" width="241" height="98"/>
<text x="1377" y="2673">3-甲基戊烷</text><text x="1511" y="2673">0.053</text>
<text x="1377" y="2698">甲基环戊烷</text><text x="1511" y="2698">0.762</text>
<text x="1377" y="2725">正己烷</text><text x="1511" y="2725">0.75</text>
</g>
<g id="tb-fine-bot"><rect class="bx bk" x="254" y="2677" width="486" height="121"/>
<text x="270" y="2703">2-甲基戊烷</text><text class="e" x="486" y="2703">0.120</text><text x="516" y="2703">环己烷</text><text class="e" x="715" y="2703">114.245</text>
<text x="270" y="2729">3-甲基戊烷</text><text class="e" x="486" y="2729">0.289</text><text x="516" y="2729">苯</text><text class="e" x="715" y="2729">2.193</text>
<text x="270" y="2755">正己烷</text><text class="e" x="486" y="2755">24.374</text><text x="516" y="2755">噻吩</text><text class="e" x="715" y="2755">0.003</text>
<text x="270" y="2780">甲基环戊烷</text><text class="e" x="486" y="2780">550.613</text><text x="516" y="2780">戊硫醇</text><text class="e" x="715" y="2780">0.005</text>
</g>
</g>

<g id="connectors">
<path class="ln" d="M763,40V199" marker-end="url(#ak)"/>
<path class="ln" d="M844,215H1384" marker-end="url(#ak)"/>
<path class="ln" d="M763,257V383" marker-end="url(#ak)"/>
<path class="ln" d="M762,440V567" marker-end="url(#ak)"/>
<path class="ln" d="M584,579H640" marker-end="url(#ak)"/>
<path class="ln" d="M759,621V777" marker-end="url(#ak)"/>
<path class="ln" d="M546,805H640" marker-end="url(#ak)"/>
<path class="ln" d="M759,830V1005" marker-end="url(#ak)"/>
<path class="ln" d="M758,1058V1334" marker-end="url(#ak)"/>
<path class="ln" d="M829,1360H1183" marker-end="url(#ak)"/>
<path class="ln" d="M1407,1360H1904V2273H1787" marker-end="url(#ak)"/>
<path class="ln" d="M1215,922V1008H1296" marker-end="url(#ak)"/>
<path class="ln" d="M751,1391V1584" marker-end="url(#ak)"/>
<path class="ln" d="M558,1595H652" marker-end="url(#ak)"/>
<path class="ln" d="M558,1632H652" marker-end="url(#ak)"/>
<path class="ln" d="M754,1642V1831" marker-end="url(#ak)"/>
<path class="ln" d="M755,1888V2246" marker-end="url(#ak)"/>
<path class="ln" d="M834,2273H1153" marker-end="url(#ak)"/>
<path class="ln" d="M1364,2285H1634" marker-end="url(#ak)"/>
<path class="ln" d="M756,2304V2578" marker-end="url(#ak)"/>
<path class="ln" d="M826,2606H1182" marker-end="url(#ak)"/>
<path class="ln" d="M1404,2606H1469" marker-end="url(#ak)"/>
<path class="ln" d="M748,2635V2770H1903V2291H1787" marker-end="url(#ak)"/>
<path class="lp" d="M651,413H586V212H683" marker-end="url(#ap)"/>
<path class="lp" d="M29,1856V428H651" marker-end="url(#ap)"/>
<path class="lp" d="M667,1361H29" marker-end="url(#ap)"/>
<path class="lp" d="M635,1852H29" marker-end="url(#ap)"/>
<path class="lp" d="M877,1015H915V579H879" marker-end="url(#ap)"/>
<path class="lp" d="M1217,1329V1295H778V1334" marker-end="url(#ap)"/>
<path class="lp" d="M872,1850H1031V1614H850" marker-end="url(#ap)"/>
<path class="lp" d="M872,1838H1015V1635H850" marker-end="url(#ap)"/>
<path class="lp" d="M1263,2242V2218H797V2246" marker-end="url(#ap)"/>
<path class="lp" d="M1199,2578V2548H781V2578" marker-end="url(#ap)"/>
<path class="lb" d="M877,390H1833" marker-end="url(#ab)"/>
<path class="lb" d="M1931,360V335H1453V250" marker-end="url(#ab)"/>
<path class="lb" d="M1931,2752V413" marker-end="url(#ab)"/>
<path class="lb" d="M1407,1339H1929" marker-end="url(#ab)"/>
<path class="lb" d="M872,1876H1929" marker-end="url(#ab)"/>
<path class="lb" d="M1282,2300V2327H1929" marker-end="url(#ab)"/>
<path class="lb" d="M1342,2635V2752H1929" marker-end="url(#ab)"/>
<path class="lr" d="M877,417H977" marker-end="url(#ar)"/>
<path class="lr" d="M1455,413H1565V623" marker-end="url(#ar)"/>
<path class="lr" d="M877,1033H994" marker-end="url(#ar)"/>
<path class="lr" d="M1040,1031H1296" marker-end="url(#ar)"/>
<path class="lr" d="M1376,1003V943" marker-end="url(#ar)"/>
<path class="lr" d="M1262,1329V1166H1330" marker-end="url(#ar)"/>
<path class="lr" d="M1383,1165H1451V1061" marker-end="url(#ar)"/>
<path class="lr" d="M872,1860H1443" marker-end="url(#ar)"/>
<path class="lr" d="M1537,1860H1719" marker-end="url(#ar)"/>
<path class="lr" d="M1342,2242V2057" marker-end="url(#ar)"/>
<path class="lr" d="M1371,2037H1582V1960" marker-end="url(#ar)"/>
<path class="lr" d="M1301,2578V2530" marker-end="url(#ar)"/>
<path class="lr" d="M1326,2514H1748" marker-end="url(#ar)"/>
<path class="lg" d="M877,788H1030" marker-end="url(#ag)"/>
<path class="lg" d="M1196,788H1362" marker-end="url(#ag)"/>
<path class="lg" d="M1491,1029H1581" marker-end="url(#ag)"/>
<path class="lg" d="M1650,1052V1104" marker-end="url(#ag)"/>
<path class="lg" d="M850,1595H971" marker-end="url(#ag)"/>
<path class="lg" d="M1418,1593H1490" marker-end="url(#ag)"/>
</g>

<g id="nodes">
<g id="n-heavy"><rect class="node" x="683" y="199" width="161" height="58"/><text class="c" x="763" y="238">脱重塔</text></g>
<g id="n-heavy-drum"><rect class="node" x="651" y="383" width="223" height="57"/><text class="c" x="762" y="421">脱重塔回流罐</text></g>
<g id="n-buffer"><rect class="node" x="640" y="567" width="239" height="54"/><text class="c" x="759" y="604">加氢原料缓冲罐</text></g>
<g id="n-hydro"><rect class="node" x="640" y="777" width="237" height="53"/><text class="c" x="758" y="813">加氢精制反应器</text></g>
<g id="n-sep1"><rect class="node" x="640" y="1005" width="237" height="53"/><text class="c" x="758" y="1041">精制气液分离罐</text></g>
<g id="n-strip"><rect class="node" x="667" y="1334" width="162" height="57"/><text class="c" x="748" y="1372">汽提塔</text></g>
<g id="n-strip-drum"><rect class="node" x="1183" y="1329" width="224" height="57"/><text class="c" x="1295" y="1367">汽提塔回流罐</text></g>
<g id="n-desulf"><rect class="node" style="stroke:#FF0000" x="1296" y="1003" width="195" height="58"/><text class="c r" x="1393" y="1042">脱硫反应器</text></g>
<g id="n-oil"><rect class="node" style="stroke:#00B0F0" x="1833" y="360" width="141" height="53"/><text class="c b" x="1903" y="396">污油罐</text></g>
<g id="n-dearo"><rect class="node" x="652" y="1584" width="198" height="58"/><text class="c" x="751" y="1623">脱芳反应器</text></g>
<g id="n-sep2"><rect class="node" x="635" y="1831" width="237" height="57"/><text class="c" x="753" y="1869">脱芳气液分离罐</text></g>
<g id="n-light"><rect class="node" x="673" y="2246" width="161" height="58"/><text class="c" x="753" y="2285">脱轻塔</text></g>
<g id="n-light-drum"><rect class="node" x="1153" y="2242" width="211" height="58"/><text class="c" x="1258" y="2281">脱轻塔回流罐</text></g>
<g id="n-fine"><rect class="node" x="665" y="2578" width="161" height="57"/><text class="c" x="745" y="2616">精制塔</text></g>
<g id="n-fine-drum"><rect class="node" x="1182" y="2578" width="222" height="57"/><text class="c" x="1293" y="2616">精制塔回流罐</text></g>
</g>

<g id="labels">
<text class="L" x="672" y="33">原料 C6 混合物</text>
<text class="M" x="771" y="100">2492.282</text>
<text class="K" x="902" y="206">塔底 907.188</text>
<text class="L m" x="1390" y="165">石油醚</text>
<text class="L m" x="1403" y="200">产品</text>
<text class="K m" x="1385" y="235">916.003</text>
<text class="K p" x="464" y="245">回流</text>
<text class="L" x="697" y="320">塔顶</text>
<text class="L" x="647" y="352">1585.094</text>
<text class="K r" x="893" y="416">0.105</text>
<text class="L r" x="988" y="428">G1</text>
<text class="M r" x="1504" y="435">0.105</text>
<text class="M b" x="1765" y="421">1.487</text>
<text class="r" style="font-size:29px" x="1247" y="662">经火炬燃烧后 1#排气筒排放</text>
<text class="M" x="772" y="515">1583.502</text>
<text class="K" x="543" y="582">H<tspan class="S" dy="5">2</tspan></text>
<text class="K" x="524" y="613">0.123</text>
<text class="K p" x="926" y="598">循环 H<tspan class="S" dy="5">2</tspan></text>
<text class="M" x="775" y="712">1583.684</text>
<text class="L" x="381" y="812">加氢催化剂</text>
<text class="L" x="553" y="802">0.145</text>
<text class="K g" x="933" y="782">0.145</text>
<text class="L g" x="1035" y="797">S1 废催化剂</text>
<text class="K g" x="1246" y="785">0.145</text>
<text class="L g" x="1368" y="797">委托有资质单位处置</text>
<text class="M" x="769" y="930">1583.684</text>
<text class="L" x="1179" y="913">脱硫剂</text>
<text class="L r" x="1291" y="893">经火炬燃烧后</text>
<text class="L r" x="1291" y="928">1#排气筒排放</text>
<text class="L" x="1225" y="980">0.563</text>
<text class="M r" x="1393" y="980">0.377</text>
<text class="L r" x="1005" y="1047">G2</text>
<text class="M r" x="915" y="1062">0.41</text>
<text class="M r" x="1153" y="1062">0.41</text>
<text class="K g" x="1509" y="1024">0.677</text>
<text class="L g" x="1589" y="1036">S4 废脱硫剂</text>
<text class="K g" x="1574" y="1092">0.677</text>
<text class="L g" x="1516" y="1142">委托有资质单位处置</text>
<text class="M" x="770" y="1118">1583.215</text>
<text class="L r" x="1347" y="1177">G3</text>
<text class="K p" x="791" y="1287">回流</text>
<text class="M r" x="1276" y="1308">0.081</text>
<text class="M b" x="1482" y="1333">0.055</text>
<text class="K p" x="351" y="1348">不合格</text>
<text class="K" x="946" y="1397">塔顶 0.98</text>
<text class="M" x="1457" y="1395">0.844</text>
<text class="M" x="767" y="1470">1582.235</text>
<text class="K" x="681" y="1555">塔底</text>
<text class="K" x="574" y="1588">8.448</text>
<text class="K" x="513" y="1605">H<tspan class="S" dy="5">2</tspan></text>
<text class="L" x="62" y="1645">芳烃饱和加氢催化剂 0.194、保护剂 0.05</text>
<text class="L" x="569" y="1660">0.244</text>
<text class="M" x="651" y="1673">1590.683</text>
<text class="L g" x="889" y="1592">0.244</text>
<text class="g" style="font-size:27px" x="978" y="1602">S2 废催化剂0.194、S3 废保护剂0.05</text>
<text class="L g" x="1498" y="1602">委托有资质单位处置</text>
<text class="K p" x="1044" y="1630">回流</text>
<text class="K p" x="905" y="1670">循环 H<tspan class="S" dy="5">2</tspan></text>
<text class="L r" x="1727" y="1828">经火炬燃烧后</text>
<text class="L r" x="1727" y="1862">1#排气筒排放</text>
<text class="M r" x="1123" y="1853">0.187</text>
<text class="L r" x="1485" y="1868">G4</text>
<text class="K p" x="267" y="1883">不合格</text>
<text class="M b" x="879" y="1905">3.015</text>
<text class="L r" x="1563" y="1917">经火炬燃烧后</text>
<text class="L r" x="1563" y="1950">1#排气筒排放</text>
<text class="M" x="648" y="2048">1587.481</text>
<text class="L r" x="1335" y="2053">G5</text>
<text class="M r" x="1285" y="2220">0.035</text>
<text class="K p" x="966" y="2217">回流</text>
<text class="K" x="937" y="2300">塔顶 66.035</text>
<text class="L m" x="1638" y="2290">溶剂油产品</text>
<text class="K m" x="1660" y="2327">755.994</text>
<text class="M" x="1463" y="2312">63.308</text>
<text class="M b" x="1317" y="2360">2.693</text>
<text class="K" x="664" y="2342">塔底</text>
<text class="L" x="637" y="2375">1521.446</text>
<text class="L r" x="1749" y="2482">经火炬燃烧后</text>
<text class="L r" x="1749" y="2517">1#排气筒排放</text>
<text class="L r" x="1288" y="2523">G6</text>
<text class="M r" x="1314" y="2564">0.038</text>
<text class="K p" x="954" y="2583">回流</text>
<text class="L m" x="1479" y="2607">正己烷产品</text>
<text class="K m" x="1525" y="2640">828</text>
<text class="L" x="915" y="2640">塔顶 829.603</text>
<text class="L" x="591" y="2673">塔底 691.842</text>
<text class="M b" x="1617" y="2740">1.565</text>
</g>

<g id="legend">
<rect x="4" y="2427" width="239" height="237" fill="none" stroke="#000" stroke-width="3"/>
<text class="L" x="97" y="2468" style="font-weight:bold">图例</text>
<path class="lp" style="stroke-dasharray:8 6" d="M32,2491H135" marker-end="url(#ap)"/>
<path class="lb" style="stroke-dasharray:8 6" d="M32,2528H135" marker-end="url(#ab)"/>
<path class="lr" style="stroke-dasharray:8 6" d="M32,2567H135" marker-end="url(#ar)"/>
<path class="lg" style="stroke-dasharray:8 6" d="M32,2603H135" marker-end="url(#ag)"/>
<path class="lm" d="M30,2641H133"/>
<text class="L" x="168" y="2505">回用</text>
<text class="L" x="168" y="2543">污油</text>
<text class="L" x="168" y="2580">废气</text>
<text class="L" x="168" y="2617">固废</text>
<text class="L" x="168" y="2655">产品</text>
</g>
</svg>
